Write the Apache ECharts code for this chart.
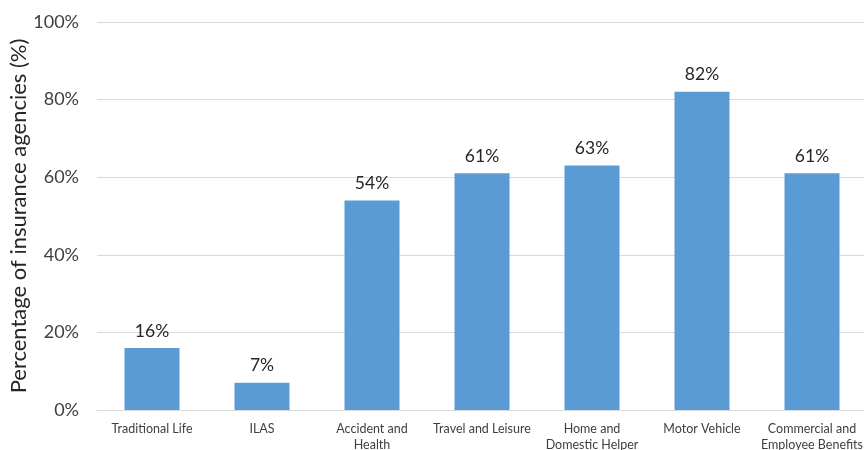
<!DOCTYPE html>
<html>
<head>
<meta charset="utf-8">
<script src="https://cdn.jsdelivr.net/npm/echarts@6/dist/echarts.min.js"></script>
<style>
  html, body { margin: 0; padding: 0; background: #fff; }
  #chart { width: 864px; height: 450px; }
</style>
</head>
<body>
<div id="chart"></div>
<script>
// Share of insurance agencies handling each line of business
const categories = [
  'Traditional Life',
  'ILAS',
  'Accident and\nHealth',
  'Travel and Leisure',
  'Home and\nDomestic Helper',
  'Motor Vehicle',
  'Commercial and\nEmployee Benefits'
];
const percentages = [16, 7, 54, 61, 63, 82, 61];
const yTicks = { min: 0, max: 100, interval: 20 };

const FONT = 'Lato, "Open Sans", sans-serif';
const chart = echarts.init(document.getElementById('chart'));

chart.setOption({
  animation: false,
  grid: {
    left: 97, right: -3, top: 22, bottom: 40,
    containLabel: false,
    outerBoundsMode: 'none'
  },
  xAxis: {
    type: 'category',
    data: categories,
    axisLine: { show: true, lineStyle: { color: '#d9d9d9', width: 1 } },
    axisTick: { show: false },
    axisLabel: {
      color: '#404040',
      fontFamily: FONT,
      fontSize: 12.5,
      lineHeight: 16,
      margin: 11,
      interval: 0
    }
  },
  yAxis: {
    type: 'value',
    min: yTicks.min,
    max: yTicks.max,
    interval: yTicks.interval,
    name: 'Percentage of insurance agencies (%)',
    nameLocation: 'middle',
    nameGap: 67,
    nameMoveOverlap: false,
    nameRotate: 90,
    nameTextStyle: { color: '#262626', fontFamily: FONT, fontSize: 22 },
    axisLine: { show: false },
    axisTick: { show: false },
    axisLabel: {
      formatter: '{value}%',
      color: '#404040',
      fontFamily: FONT,
      fontSize: 18,
      margin: 18
    },
    splitLine: { lineStyle: { color: '#d9d9d9', width: 1 } }
  },
  series: [{
    type: 'bar',
    data: percentages,
    barWidth: 55,
    itemStyle: { color: '#5b9bd5' },
    label: {
      show: true,
      position: 'top',
      distance: 8,
      formatter: '{c}%',
      color: '#262626',
      fontFamily: FONT,
      fontSize: 17.5
    }
  }]
});
</script>
</body>
</html>
